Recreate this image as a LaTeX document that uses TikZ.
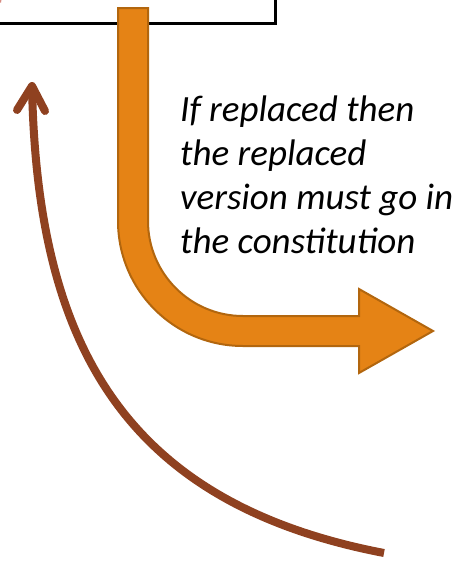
\documentclass[tikz,border=0pt]{standalone}
\usepackage{fontspec}
\setmainfont{Carlito}
\begin{document}
\begin{tikzpicture}[x=1pt,y=1pt]
\definecolor{orfill}{RGB}{229,131,21}
\definecolor{ordraw}{RGB}{178,102,14}
\definecolor{brownln}{RGB}{143,65,32}
\definecolor{pinkish}{RGB}{215,140,130}
\tikzset{
  boxline/.style={draw=black, line width=3},
  bentarrow/.style={fill=orfill, draw=ordraw, line width=2, line join=miter},
  curvedline/.style={draw=brownln, line width=8, line cap=butt},
  curvedhead/.style={draw=brownln, line width=8, line cap=round, line join=round},
  notetext/.style={anchor=base west, inner sep=0, align=left,
    font=\fontsize{37}{43.7}\selectfont\itshape}
}
\useasboundingbox (0,0) rectangle (458,-562);
\clip (0,0) rectangle (458,-562);
% top box (only its corner visible)
\draw[boxline] (-20,20) rectangle (275,-23);
\draw[pinkish, line width=2] (0,-2.5) arc[start angle=200, end angle=140, radius=3];
% orange bent arrow
\coordinate (otip) at (433,-331);
\draw[bentarrow] (118,-8) -- (118,-221) arc[start angle=180, end angle=270, radius=125]
  -- (359,-346) -- (359,-373) -- (otip) -- (359,-289) -- (359,-316) -- (243,-316)
  arc[start angle=270, end angle=180, radius=95] -- (148,-8) -- cycle;
% text
\node[notetext] (note) at (180,-253) {If replaced then\\the replaced\\version must go in\\the constitution};
% brown curved arrow
\coordinate (bstart) at (384,-553);
\coordinate (btip) at (32,-86);
\draw[curvedline] (bstart) .. controls (118,-502) and (37,-337) .. (btip);
\draw[curvedhead] (17,-110) -- (btip) -- (45,-111);
\end{tikzpicture}
\end{document}
